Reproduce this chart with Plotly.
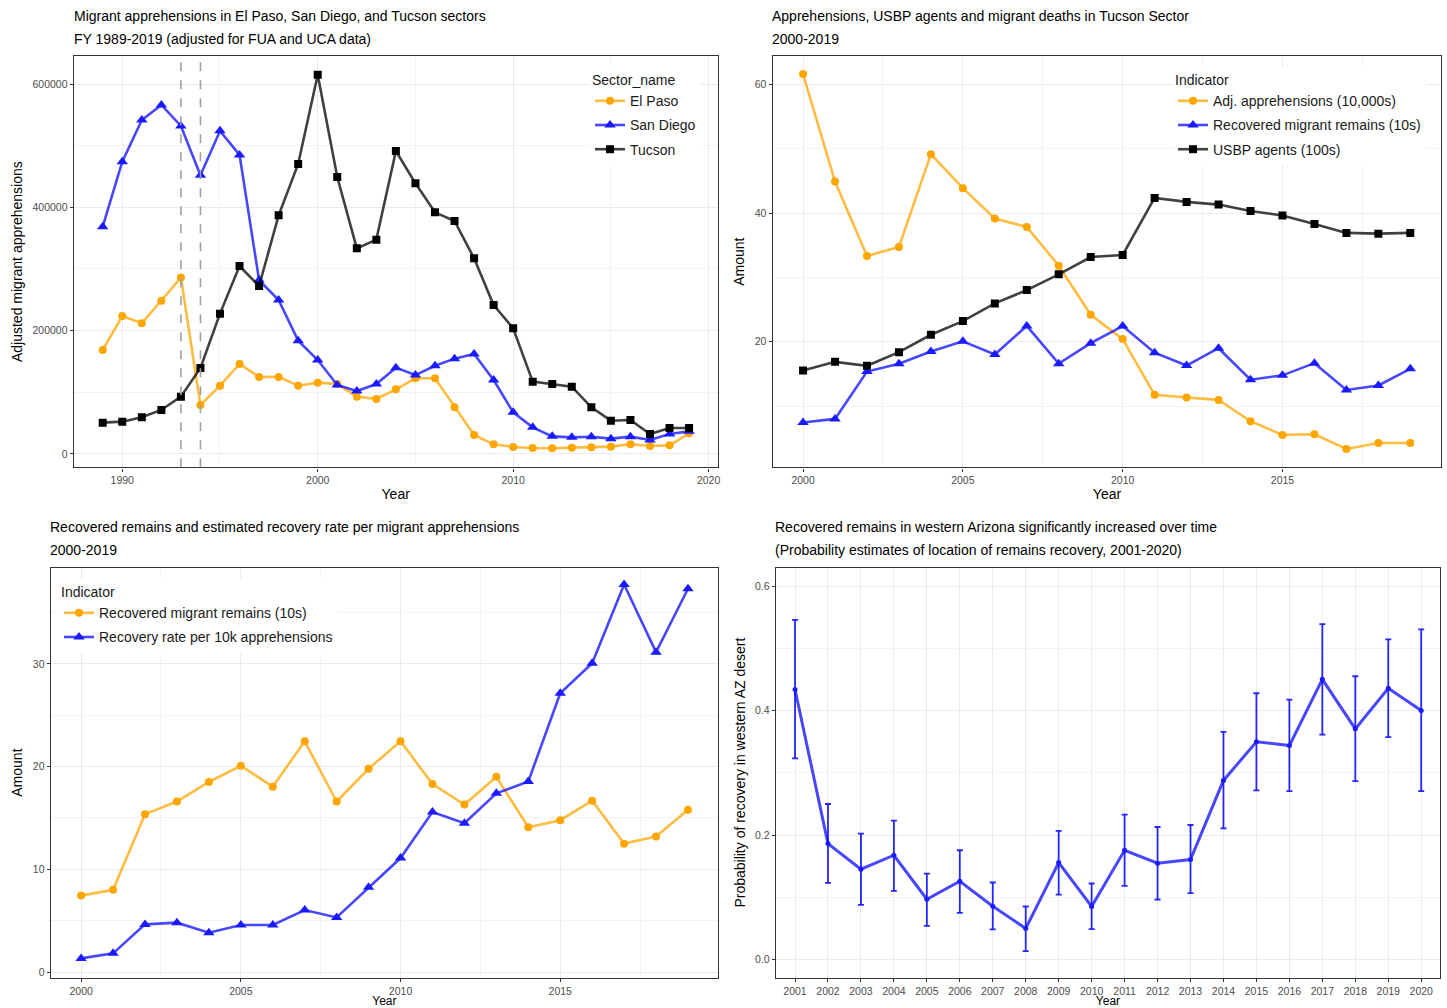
import plotly.graph_objects as go

# ---------------- DATA ----------------
years_tl = list(range(1989, 2020))
el_paso = [168600, 223800, 212000, 248600, 286000, 79500, 110800, 146000, 124900, 125000,
           110800, 115700, 113500, 93000, 89200, 104900, 122700, 122700, 75700, 30800,
           15700, 11400, 9700, 9200, 10300, 10800, 11900, 15700, 13000, 14000, 33500]
san_diego = [368600, 474000, 541600, 566000, 532000, 452000, 524000, 485000, 282000, 249700,
             183800, 152400, 111900, 102000, 113500, 140000, 128000, 143000, 154600, 162000,
             120000, 67600, 43200, 28600, 27000, 28000, 24900, 28100, 22700, 32400, 36700]
tucson = [50800, 52400, 59500, 71400, 93000, 139500, 227600, 304900, 272400, 387000,
          470300, 615100, 449200, 333500, 347600, 491400, 438900, 391900, 377800, 317300,
          241600, 203800, 117300, 113500, 109200, 75700, 54000, 55100, 32400, 42200, 42200]
policy_years = [1993, 1994]

years_tr = list(range(2000, 2020))
adj_apprehensions = [61.66, 44.94, 33.35, 34.75, 49.19, 43.9, 39.17, 37.87, 31.84, 24.2,
                     20.42, 11.74, 11.32, 10.96, 7.64, 5.51, 5.61, 3.32, 4.26, 4.26]
recovered_remains = [7.44, 8.0, 15.37, 16.6, 18.5, 20.08, 18.04, 22.46, 16.6, 19.79,
                     22.46, 18.3, 16.3, 19.0, 14.1, 14.78, 16.68, 12.5, 13.2, 15.8]
usbp_agents = [15.53, 16.88, 16.26, 18.39, 21.09, 23.22, 25.97, 28.05, 30.49, 33.19,
               33.51, 42.39, 41.77, 41.35, 40.36, 39.64, 38.34, 36.94, 36.83, 36.94]
recovery_rate = [1.33, 1.82, 4.64, 4.81, 3.83, 4.58, 4.58, 6.04, 5.32, 8.25,
                 11.1, 15.58, 14.48, 17.4, 18.54, 27.14, 30.06, 37.73, 31.14, 37.31]

years_br = list(range(2001, 2021))
prob_west = [0.434, 0.1865, 0.1453, 0.1678, 0.0972, 0.1261, 0.086, 0.0502, 0.156, 0.0855,
             0.1758, 0.155, 0.1608, 0.288, 0.35, 0.344, 0.4504, 0.3708, 0.436, 0.4002]
prob_upper = [0.546, 0.2501, 0.2025, 0.2234, 0.1384, 0.1758, 0.124, 0.0855, 0.2068, 0.1224,
              0.233, 0.2132, 0.2164, 0.366, 0.428, 0.4178, 0.539, 0.4553, 0.5146, 0.5306]
prob_lower = [0.3233, 0.1234, 0.0882, 0.1106, 0.0545, 0.0753, 0.0486, 0.0139, 0.1047, 0.0492,
              0.1186, 0.0967, 0.1069, 0.211, 0.272, 0.2709, 0.3617, 0.2869, 0.3575, 0.2709]

# ---------------- STYLE ----------------
W, H = 1447, 1008
FONT = "Liberation Sans, Arial, Helvetica, sans-serif"
ORANGE = "#FFA500"
ORANGE_L = "rgba(255,165,0,0.75)"
BLUE = "#1a1aff"
BLUE_L = "rgba(0,0,255,0.72)"
BLACK = "#000000"
BLACK_L = "rgba(0,0,0,0.75)"
GRID = "#EBEBEB"
GRID_MINOR = "#F3F3F3"
BORDER = "#333333"

def px_x(p):
    return p / W

def px_y(p):
    return 1 - p / H

fig = go.Figure()

def line_trace(x, y, name, color, lcolor, symbol, size, xa, ya, legend, group):
    return go.Scatter(
        x=x, y=y, name=name, mode="lines+markers",
        line=dict(color=lcolor, width=2.6),
        marker=dict(color=color, symbol=symbol, size=size),
        xaxis=xa, yaxis=ya, legend=legend, legendgroup=group, hoverinfo="x+y+name",
    )

# Top-left
fig.add_trace(line_trace(years_tl, el_paso, "El Paso", ORANGE, ORANGE_L, "circle", 8, "x", "y", "legend", "a1"))
fig.add_trace(line_trace(years_tl, san_diego, "San Diego", BLUE, BLUE_L, "triangle-up", 10, "x", "y", "legend", "a2"))
fig.add_trace(line_trace(years_tl, tucson, "Tucson", BLACK, BLACK_L, "square", 8, "x", "y", "legend", "a3"))

# Top-right
fig.add_trace(line_trace(years_tr, adj_apprehensions, "Adj. apprehensions (10,000s)", ORANGE, ORANGE_L, "circle", 8, "x2", "y2", "legend2", "b1"))
fig.add_trace(line_trace(years_tr, recovered_remains, "Recovered migrant remains (10s)", BLUE, BLUE_L, "triangle-up", 10, "x2", "y2", "legend2", "b2"))
fig.add_trace(line_trace(years_tr, usbp_agents, "USBP agents (100s)", BLACK, BLACK_L, "square", 8, "x2", "y2", "legend2", "b3"))

# Bottom-left
fig.add_trace(line_trace(years_tr, recovered_remains, "Recovered migrant remains (10s)", ORANGE, ORANGE_L, "circle", 8, "x3", "y3", "legend3", "c1"))
fig.add_trace(line_trace(years_tr, recovery_rate, "Recovery rate per 10k apprehensions", BLUE, BLUE_L, "triangle-up", 10, "x3", "y3", "legend3", "c2"))

# Bottom-right
err_plus = [u - p for u, p in zip(prob_upper, prob_west)]
err_minus = [p - l for p, l in zip(prob_west, prob_lower)]
fig.add_trace(go.Scatter(
    x=years_br, y=prob_west, mode="lines+markers", showlegend=False,
    line=dict(color=BLUE_L, width=3),
    marker=dict(color=BLUE, size=5),
    error_y=dict(type="data", symmetric=False, array=err_plus, arrayminus=err_minus,
                 color="rgba(0,0,255,0.85)", thickness=1.8, width=3),
    xaxis="x4", yaxis="y4",
))

# Dashed policy lines (top-left)
for yr in policy_years:
    fig.add_shape(type="line", xref="x", yref="y domain", x0=yr, x1=yr, y0=0, y1=1,
                  line=dict(color="#A0A0A0", width=1.6, dash="dash"), layer="above")

tickfont = dict(family=FONT, size=10.5, color="#4D4D4D")
titlefont = dict(family=FONT, size=14, color="#000000")

def axis(domain, rng, dtick, tick0, minor_dtick, title, anchor, standoff, ticklen=3, extra=None, tsize=14):
    d = dict(
        domain=domain, range=rng, dtick=dtick, tick0=tick0, anchor=anchor,
        showgrid=True, gridcolor=GRID, gridwidth=1.1,
        zeroline=False, showline=True, linecolor=BORDER, linewidth=1.4, mirror=True,
        ticks="outside", ticklen=ticklen, tickwidth=1, tickcolor=BORDER,
        tickfont=tickfont,
        title=dict(text=title, font=dict(family=FONT, size=tsize, color="#000000"), standoff=standoff),
        automargin=False,
    )
    if minor_dtick is not None:
        d["minor"] = dict(dtick=minor_dtick, showgrid=True, gridcolor=GRID_MINOR, gridwidth=0.8, ticks="")
    if extra:
        d.update(extra)
    return d

# domains
tl_x = [px_x(73.8), px_x(717.6)]
top_y = [px_y(467.3), px_y(56)]
tr_x = [px_x(772.7), px_x(1441.3)]
bl_x = [px_x(50.8), px_x(718)]
bot_y = [px_y(977.7), px_y(567.5)]
br_x = [px_x(775.9), px_x(1440)]

fig.update_layout(
    xaxis=axis(tl_x, [1987.52, 2020.46], 10, 1990, 5, "Year", "y", 4),
    yaxis=axis(top_y, [-21600, 645400], 200000, 0, 100000, "Adjusted migrant apprehensions", "x", 6,
               extra=dict(tickformat="d")),
    xaxis2=axis(tr_x, [1999.05, 2019.97], 5, 2000, 2.5, "Year", "y2", 4),
    yaxis2=axis(top_y, [0.47, 64.47], 20, 0, 10, "Amount", "x2", 6),
    xaxis3=axis(bl_x, [1999.05, 2019.94], 5, 2000, 2.5, "Year", "y3", 3, tsize=12),
    yaxis3=axis(bot_y, [-0.55, 39.38], 10, 0, 5, "Amount", "x3", 6),
    xaxis4=axis(br_x, [2000.42, 2020.57], 1, 2001, None, "Year", "y4", 3, tsize=12),
    yaxis4=axis(bot_y, [-0.0289, 0.63], 0.2, 0, 0.1, "Probability of recovery in western AZ desert", "x4", 6,
                extra=dict(tickformat=".1f")),
)

legend_common = dict(
    bgcolor="white", borderwidth=0, font=dict(family=FONT, size=14, color="#1a1a1a"),
    xanchor="left", yanchor="top", traceorder="grouped", itemwidth=30,
    tracegroupgap=3,
)
fig.update_layout(
    legend=dict(x=px_x(590), y=px_y(67), title=dict(text="Sector_name", font=dict(family=FONT, size=14)), **legend_common),
    legend2=dict(x=px_x(1173), y=px_y(67), title=dict(text="Indicator", font=dict(family=FONT, size=14)), **legend_common),
    legend3=dict(x=px_x(59), y=px_y(579), title=dict(text="Indicator", font=dict(family=FONT, size=14)), **legend_common),
)

# Panel titles
titles = [
    (72, "Migrant apprehensions in El Paso, San Diego, and Tucson sectors", "FY 1989-2019 (adjusted for FUA and UCA data)", 0),
    (770, "Apprehensions, USBP agents and migrant deaths in Tucson Sector", "2000-2019", 0),
    (48, "Recovered remains and estimated recovery rate per migrant apprehensions", "2000-2019", 511),
    (773, "Recovered remains in western Arizona significantly increased over time", "(Probability estimates of location of remains recovery, 2001-2020)", 511),
]
for xpx, l1, l2, yoff in titles:
    fig.add_annotation(xref="paper", yref="paper", x=px_x(xpx), y=px_y(16 + yoff), text=l1,
                       showarrow=False, xanchor="left", yanchor="middle",
                       font=dict(family=FONT, size=14, color="#000000"))
    fig.add_annotation(xref="paper", yref="paper", x=px_x(xpx), y=px_y(39 + yoff), text=l2,
                       showarrow=False, xanchor="left", yanchor="middle",
                       font=dict(family=FONT, size=14, color="#000000"))

fig.update_layout(
    width=W, height=H, autosize=False,
    margin=dict(l=0, r=0, t=0, b=0),
    paper_bgcolor="white", plot_bgcolor="white",
    font=dict(family=FONT, size=12, color="#000000"),
    hovermode="closest",
)

fig.write_html("out.html", include_plotlyjs=True, config={"displayModeBar": False},
               post_script="document.body.style.margin='0';document.body.style.overflow='hidden';")
